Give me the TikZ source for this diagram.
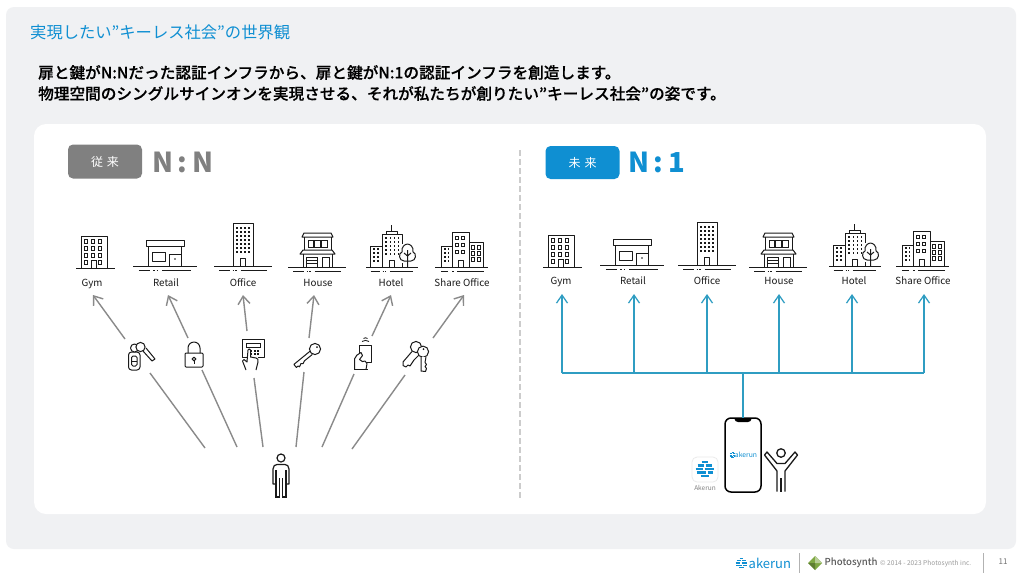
\documentclass[tikz,border=0pt]{standalone}
\usepackage{fontspec}
\setmainfont{Noto Sans CJK JP}
\newfontfamily\medf{Noto Sans CJK JP Medium}
\newfontfamily\semif[FakeBold=0.35]{Noto Sans CJK JP Medium}
\usetikzlibrary{arrows.meta}
\definecolor{cardgray}{HTML}{F0F1F3}
\definecolor{akblue}{HTML}{0F8FD2}
\definecolor{linkblue}{HTML}{2F9DC2}
\definecolor{midgray}{HTML}{808080}
\definecolor{arrowgray}{HTML}{8A8A8A}
\definecolor{ink}{HTML}{1A1A1A}
\definecolor{leaf}{HTML}{7FA844}
\tikzset{
  ic/.style={draw=ink,line width=1pt,line join=round},
  thin ic/.style={draw=ink,line width=.85pt},
  blabel/.style={font=\fontsize{9.8}{10}\selectfont,text=ink,inner sep=0pt,outer sep=0pt,minimum height=24pt,text height=9pt,text depth=2pt},
  rlabel/.style={blabel,minimum height=26pt},
  grayarrow/.style={draw=arrowgray,line width=1.4pt,-{Straight Barb[length=8pt,width=12pt,line width=1.4pt]}},
  grayline/.style={draw=arrowgray,line width=1.4pt},
  bluearrow/.style={draw=linkblue,line width=1.25pt,-{Straight Barb[length=8pt,width=11pt,line width=1.25pt]}},
  blueline/.style={draw=linkblue,line width=1.25pt},
  tagbox/.style={rounded corners=5pt,minimum width=74pt,minimum height=34pt,inner sep=0pt,text=white,font=\fontsize{12}{12}\selectfont},
  bigratio/.style={font=\bfseries\fontsize{27.5}{28}\selectfont,inner sep=0pt,anchor=west},
}
\newcommand{\groundl}[3]{%
  \draw[ic] (#1,#3) -- (#2,#3);
  \draw[ic] ({#1+0.09*(#2-#1)},#3+4) -- ({#1+0.27*(#2-#1)},#3+4)
            ({#1+0.32*(#2-#1)},#3+4) -- ({#1+0.34*(#2-#1)},#3+4)
            ({#1+0.37*(#2-#1)},#3+4) -- ({#1+0.39*(#2-#1)},#3+4)
            ({#1+0.46*(#2-#1)},#3+4) -- ({#1+0.91*(#2-#1)},#3+4);}
\newcommand{\dotgrid}[6]{% x0 dx nx y0 dy ny
  \foreach \ia in {1,...,#3}{\foreach \ib in {1,...,#6}{
    \fill[ink] ({#1+(\ia-1)*#2-.6},{#4+(\ib-1)*#5-.6}) rectangle ++(1.2,1.2);}}}
\newcommand{\wingrid}[6]{%
  \foreach \ia in {1,...,#3}{\foreach \ib in {1,...,#6}{
    \draw[thin ic] ({#1+(\ia-1)*#2},{#4+(\ib-1)*#5}) rectangle ++(3.4,3.6);}}}
\newcommand{\iconGym}{%
  \draw[ic] (81,268) -- (81,236) -- (107,236) -- (107,268);
  \draw[ic] (76,268) -- (115,268);
  \wingrid{84.5}{7}{3}{239.5}{7}{3}
  \draw[thin ic] (84.5,260.5) rectangle ++(3.4,3.6);
  \draw[thin ic] (98.5,260.5) rectangle ++(3.4,3.6);
  \draw[thin ic] (91,268) -- (91,260) -- (96.5,260) -- (96.5,268);}
\newcommand{\iconRetail}{%
  \draw[ic] (146,240) rectangle (184.5,246);
  \draw[ic] (148.5,246) -- (148.5,266) (181,246) -- (181,266);
  \draw[ic] (152,252) rectangle (165,261);
  \draw[ic] (169,266) -- (169,254) -- (181,254);
  \fill[ink] (175,259) circle (.8);
  \groundl{133}{197}{266}}
\newcommand{\iconOffice}{%
  \draw[ic] (233,266) -- (233,223) -- (253,223) -- (253,266);
  \dotgrid{237}{4}{4}{228}{4}{7}
  \fill[white] (239,256) rectangle (247,266);
  \draw[ic] (240.5,266) -- (240.5,258.5) -- (245.5,258.5) -- (245.5,266);
  \groundl{214}{272}{266}}
\newcommand{\iconHouse}{%
  \draw[ic] (302,237) -- (304,233) -- (331,233) -- (333,237) -- cycle;
  \draw[ic] (304,237) -- (304,250) (331,237) -- (331,250);
  \draw[thin ic] (308,240.5) rectangle (313.5,247) (314.8,240.5) rectangle (320.2,247) (321.5,240.5) rectangle (327,247);
  \draw[ic] (300,254) -- (303,250) -- (332,250) -- (335,254) -- cycle;
  \draw[ic] (303,254) -- (303,267) (332,254) -- (332,267);
  \draw[thin ic] (306.5,267) -- (306.5,257) -- (317,257) -- (317,267);
  \draw[thin ic] (306.5,260) -- (317,260) (306.5,263) -- (317,263);
  \draw[thin ic] (322,267) -- (322,257) -- (329,257) -- (329,267);
  \groundl{288}{346}{267}}
\newcommand{\iconHotel}{%
  \draw[ic] (382,246) -- (370,246) -- (370,267);
  \dotgrid{374}{4}{2}{249}{4}{4}
  \draw[ic] (382,267) -- (382,234) -- (402,234) -- (402,267);
  \draw[ic] (386,234) -- (386,231) -- (397,231) -- (397,234);
  \draw[ic] (391.5,231) -- (391.5,225);
  \dotgrid{386}{4.2}{4}{238}{4}{5}
  \fill[white] (388,258) rectangle (396,267);
  \draw[ic] (389,267) -- (389,260) -- (394.5,260) -- (394.5,267);
  \fill[white] (400,244) rectangle (416,263);
  \draw[ic] (404,261) .. controls (399,261) and (398,253) .. (402,252)
     .. controls (401,247) and (405,244) .. (407.5,244)
     .. controls (410,244) and (414,247) .. (413,252)
     .. controls (417,253) and (416,261) .. (411,261) -- cycle;
  \draw[ic] (407.5,267) -- (407.5,250) (407.5,256) -- (404,253) (407.5,256) -- (411,253);
  \groundl{366}{418}{267}}
\newcommand{\iconShare}{%
  \draw[ic] (452,246) -- (441,246) -- (441,267);
  \dotgrid{445}{3.6}{2}{249}{4}{4}
  \draw[ic] (452,267) -- (452,232) -- (469,232) -- (469,267);
  \wingrid{455.5}{6}{2}{236}{7}{3}
  \draw[ic] (458,267) -- (458,260) -- (463,260) -- (463,267);
  \draw[ic] (469,242) -- (483,242) -- (483,267);
  \wingrid{471.5}{6}{2}{245.5}{6}{3}
  \draw[ic] (435,267) -- (488,267);
  \draw[ic] (441,271) -- (448,271) (452,271) -- (454,271) (457,271) -- (484,271);}
% logo: stripes in a disc; #1 cx, #2 cy, #3 scale
\newcommand{\akLogo}[3]{%
  \begin{scope}[shift={(#1,#2)},scale=#3]
  \foreach \yy/\aa/\bb in {-7/-3/3,-3.5/-7/-1,-3.5/1/7,0/-9/-2,0/0/9,3.5/-8/1,3.5/3/8,7/-4/4}{
    \draw[akblue,line width=#3*2.2pt] (\aa,\yy) -- (\bb,\yy);}
  \end{scope}}
\begin{document}
\begin{tikzpicture}[x=1pt,y=-1pt]
\useasboundingbox (0,0) rectangle (1024,576);
\fill[white] (0,0) rectangle (1024,576);
\fill[cardgray,rounded corners=8pt] (6,7) rectangle (1016,549);
\fill[white,rounded corners=12pt] (34,124) rectangle (986,514);
% headings
\node[anchor=west,inner sep=0pt,text=akblue,font=\fontsize{16.3}{16}\selectfont] (title) at (30,32) {実現したい”キーレス社会”の世界観};
\node[anchor=west,inner sep=0pt,text=black,font=\semif\fontsize{15.65}{15}\selectfont] (lineA) at (38,72.5) {扉と鍵がN:Nだった認証インフラから、扉と鍵がN:1の認証インフラを創造します。};
\node[anchor=west,inner sep=0pt,text=black,font=\semif\fontsize{15.65}{15}\selectfont] (lineB) at (38,93.5) {物理空間のシングルサインオンを実現させる、それが私たちが創りたい”キーレス社会”の姿です。};
% tags
\node[tagbox,fill=midgray] (tagOld) at (105,161.5) {従\,\,来};
\node[bigratio,text=midgray] (ratioOld) at (152,162) {N\,:\,N};
\node[tagbox,fill=akblue,minimum height=33pt] (tagNew) at (582.5,162.5) {未\,\,来};
\node[bigratio,text=akblue] (ratioNew) at (628,162) {N\,:\,1};
\draw[draw=black!20,line width=1.6pt,dash pattern=on 6pt off 3pt] (520,150) -- (520,498);
% left icons
\iconGym \iconRetail \iconOffice \iconHouse \iconHotel \iconShare
% right icons
\begin{scope}[shift={(467,-1)}]\iconGym\iconRetail\end{scope}
\begin{scope}[shift={(464,-1)}]\iconOffice\end{scope}
\begin{scope}[shift={(461,0)}]\iconHouse\end{scope}
\begin{scope}[shift={(463,-1)}]\iconHotel\end{scope}
\begin{scope}[shift={(461,-1)}]\iconShare\end{scope}
% labels
\node[blabel] (lGym) at (92,283) {Gym};
\node[blabel] (lRetail) at (166,283) {Retail};
\node[blabel] (lOffice) at (243,283) {Office};
\node[blabel] (lHouse) at (318,283) {House};
\node[blabel] (lHotel) at (391,283) {Hotel};
\node[blabel] (lShare) at (462,283) {Share Office};
\node[rlabel] (rGym) at (561,281) {Gym};
\node[rlabel] (rRetail) at (633,281) {Retail};
\node[rlabel] (rOffice) at (707,281) {Office};
\node[rlabel] (rHouse) at (779,281) {House};
\node[rlabel] (rHotel) at (854,281) {Hotel};
\node[rlabel] (rShare) at (923,281) {Share Office};
% key icons
% fob + key
\draw[ic,rounded corners=3pt] (128.5,352) rectangle (140,370);
\draw[ic,rounded corners=1.5pt] (131.5,356) rectangle (137,366);
\draw[thin ic] (131.5,361) -- (137,361);
\draw[ic,fill=white] (134.5,348) circle (4);
\draw[ic,fill=white] (140.5,347) circle (4.6);
\draw[ic] (143,351) -- (152,361) -- (155,359) -- (146,348);
% lock
\draw[ic,rounded corners=1pt] (185,353) rectangle (203,367);
\draw[ic] (188,353) -- (188,348) arc[start angle=180,end angle=360,radius=6] -- (200,353);
\draw[ic] (194,359) circle (1.9);
\draw[ic] (194,361) -- (194,364);
% keypad + hand
\draw[ic] (250,357) -- (242,357) -- (242,339.5) -- (264,339.5) -- (264,357) -- (258,357);
\draw[thin ic] (246,343) rectangle (260,347);
\foreach \kx in {250,253.5,257}{\foreach \ky in {350,353}{\fill[ink] (\kx,\ky) rectangle ++(2,1.6);}}
\draw[ic,fill=white] (246,370) -- (242.5,361) -- (244,359.5) -- (247,362) -- (248,350) .. controls (248,348.5) and (250.5,348.5) .. (250.5,350) -- (250.5,357) -- (256,358) .. controls (258,358) and (258.5,360) .. (258,362) -- (256,370);
% key
\draw[ic] (315,349) circle (5.6);
\fill[ink] (317,347) circle (1);
\draw[ic] (309.9,351.3) -- (293.9,364.4) -- (296.4,367.5) -- (298,366) -- (299.5,366.8) -- (301,363.5) -- (303,363.7) -- (304.5,360.8) -- (312.4,354.4);
% phone and hand
\draw[ic] (359.5,345) rectangle (371,362);
\draw[thin ic] (362,341.5) .. controls (364,340) and (367,340) .. (369,341.5);
\draw[thin ic] (363.5,338.5) .. controls (365,337.5) and (366,337.5) .. (367.5,338.5);
\draw[ic,fill=white] (354.5,369.5) -- (354.5,359) .. controls (355,356) and (358,354) .. (361,352.5) -- (362.5,355.5) -- (359.5,359.5) .. controls (361,362) and (364,362) .. (365,361) -- (367,363.5) -- (366,369.5);
\draw[ic] (354,369.5) -- (368,369.5);
% two keys
\draw[ic,fill=white] (416,347) circle (5.6);
\draw[ic] (412,351.5) -- (403,362) -- (403,365.5) -- (406,367) -- (408,365) -- (410,366) -- (414,360) -- (419,355);
\draw[ic,fill=white] (423,351.7) circle (5.6);
\fill[ink] (423.5,349) circle (1);
\draw[ic,fill=white] (421,357) -- (421,371) -- (425.5,371.5) -- (426.5,368.5) -- (425,366.5) -- (426.5,364.5) -- (425,362.5) -- (426,357);
% person left
\node[circle,draw=ink,line width=1.2pt,minimum size=8pt,inner sep=0pt] (pHead) at (281,458) {};
\draw[draw=ink,line width=1.2pt,line join=round] (276,470) -- (276,484) -- (273,484) -- (273,469) .. controls (273,466) and (275,464.5) .. (277,464.5) -- (285,464.5) .. controls (287,464.5) and (289,466) .. (289,469) -- (289,484) -- (286,484) -- (286,470);
\draw[draw=ink,line width=1.2pt] (276,470) -- (276,497) -- (279.5,497) -- (279.5,478) (286,470) -- (286,497) -- (282.5,497) -- (282.5,478);
% connector anchor nodes
\foreach \nm/\xx/\yy in {kA/125/339,kB/188/338,kC/247/331,kD/309/338,kE/372/336,kF/433/338,
  mA/150/373,mB/202/370,mC/254/378,mD/304/372,mE/354/374,mF/405/375,
  sA/205/448,sB/237/447,sC/263/447,sD/296/447,sE/322/447,sF/352/449}{\coordinate (\nm) at (\xx,\yy);}
\draw[grayarrow] (kA) -- ([xshift=1]lGym.south);
\draw[grayarrow] (kB) -- ([xshift=2]lRetail.south);
\draw[grayarrow] (kC) -- (lOffice.south);
\draw[grayarrow] (kD) -- ([xshift=-4]lHouse.south);
\draw[grayarrow] (kE) -- (lHotel.south);
\draw[grayarrow] (kF) -- ([xshift=2]lShare.south);
\draw[grayline] (sA) -- (mA);
\draw[grayline] (sB) -- (mB);
\draw[grayline] (sC) -- (mC);
\draw[grayline] (sD) -- (mD);
\draw[grayline] (sE) -- (mE);
\draw[grayline] (sF) -- (mF);
% phone
\node[draw=black,line width=1.5pt,rounded corners=6pt,fill=white,minimum width=36pt,minimum height=74pt,inner sep=0pt,outer sep=0pt] (phone) at (743,455) {};
\fill[black] (734,418) -- (752,418) .. controls (751,421) and (750,422) .. (748,422) -- (738,422) .. controls (736,422) and (735,421) .. (734,418) -- cycle;
\akLogo{732.5}{455}{.33}
\node[inner sep=0pt,text=akblue,font=\fontsize{6.8}{7}\selectfont] (phoneText) at (746,455) {akerun};
% blue bus
\foreach \nm/\xx in {bA/562,bB/634,bC/707,bD/779,bE/852,bF/924,bS/743}{\coordinate (\nm) at (\xx,373);}
\draw[blueline] (bA) -- (bF);
\draw[blueline] (bS) -- (phone.north);
\draw[bluearrow] (bA) -- ([xshift=1]rGym.south);
\draw[bluearrow] (bB) -- ([xshift=1]rRetail.south);
\draw[bluearrow] (bC) -- (rOffice.south);
\draw[bluearrow] (bD) -- (rHouse.south);
\draw[bluearrow] (bE) -- ([xshift=-2]rHotel.south);
\draw[bluearrow] (bF) -- ([xshift=1]rShare.south);
% person right
\node[circle,draw=ink,line width=1.3pt,minimum size=8.5pt,inner sep=0pt] (qHead) at (781,453) {};
\draw[draw=ink,line width=1.3pt,line join=round] (777,491.5) -- (777,471) -- (764.5,455) -- (767,452) -- (777,463.5) -- (785,463.5) -- (795,452) -- (797.5,455) -- (785,471) -- (785,491.5);
\draw[draw=ink,line width=1.3pt] (781,478) -- (781,491.5);
% app tile
\node[rounded corners=5pt,draw=black!8,fill=white,line width=.8pt,minimum width=26pt,minimum height=25pt,inner sep=0pt] (app) at (705,469.5) {};
\akLogo{704.5}{469}{1}
\node[inner sep=0pt,text=midgray,font=\fontsize{6.5}{7}\selectfont] (appText) at (705,488) {Akerun};
% footer
\akLogo{741.5}{563}{.65}
\node[anchor=west,inner sep=0pt,text=akblue,font=\fontsize{13}{13}\selectfont] (fAkerun) at (748.5,563) {akerun};
\draw[draw=black!30,line width=.7pt] (799,553) -- (799,573);
\fill[leaf] (815,556) -- (822,563) -- (815,570) -- (808,563) -- cycle;
\fill[leaf!55!white] (815,556) -- (822,563) -- (815,563) -- cycle;
\fill[leaf!75!black] (808,563) -- (815,563) -- (815,570) -- cycle;
\node[anchor=west,inner sep=0pt,text=black!65,font=\medf\fontsize{9.6}{10}\selectfont] (fPhoto) at (824.5,562.5) {Photosynth};
\node[anchor=west,inner sep=0pt,text=black!40,font=\fontsize{6.6}{7}\selectfont] (fCopy) at (880,564) {© 2014 - 2023 Photosynth inc.};
\draw[draw=black!30,line width=.7pt] (983,553) -- (983,573);
\node[inner sep=0pt,text=black!55,font=\fontsize{8}{8}\selectfont] (fPage) at (1003,562) {11};
\end{tikzpicture}
\end{document}
